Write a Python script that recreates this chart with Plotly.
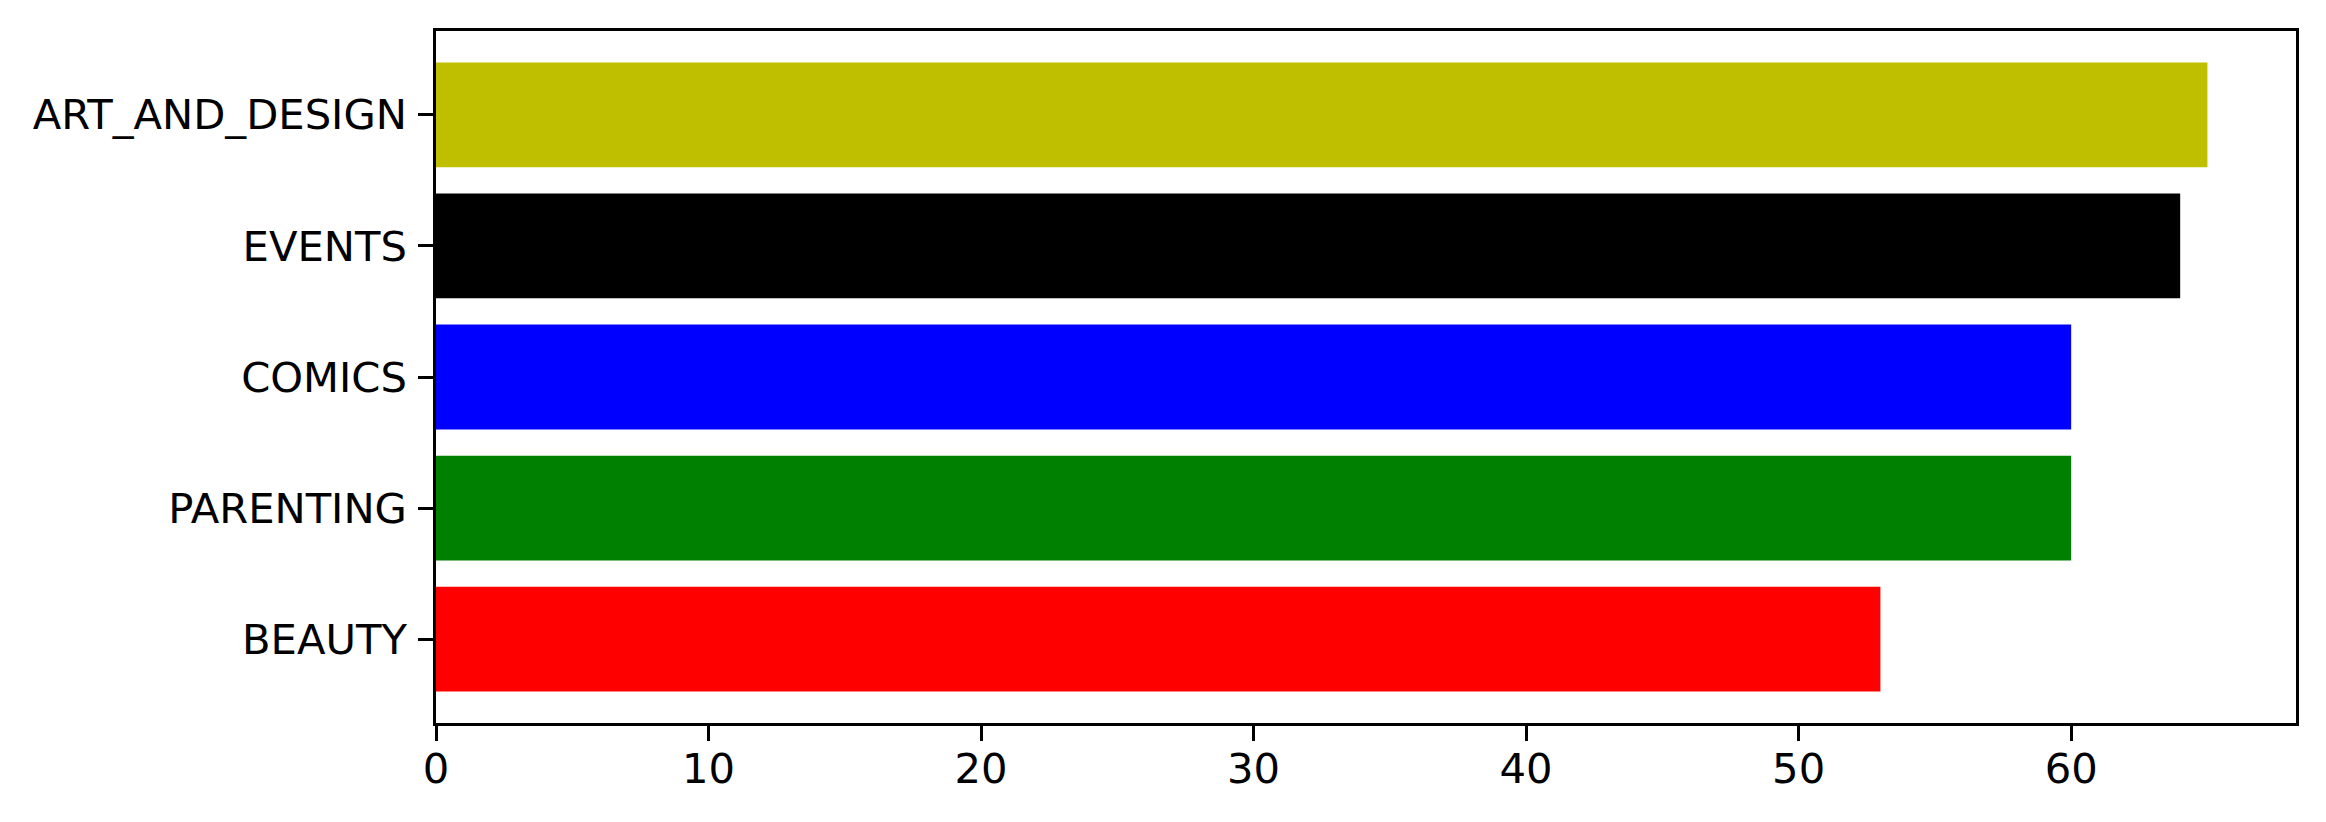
import plotly.graph_objects as go

categories = ["BEAUTY", "PARENTING", "COMICS", "EVENTS", "ART_AND_DESIGN"]
values = [53, 60, 60, 64, 65]
colors = ["#ff0000", "#008000", "#0000ff", "#000000", "#bfbf00"]
x_ticks = [0, 10, 20, 30, 40, 50, 60]

fig = go.Figure()
fig.add_trace(go.Bar(
    x=values, y=categories, orientation="h",
    marker=dict(color=colors, line=dict(width=0)),
    width=0.8,
))
# invisible trace so the label-only axis is rendered
fig.add_trace(go.Scatter(x=[0], y=[categories[0]], xaxis="x2", mode="markers",
                         marker=dict(opacity=0), hoverinfo="skip"))

font = dict(family="DejaVu Sans, sans-serif", size=41.7, color="black")
axis_common = dict(
    showline=True, linecolor="black", linewidth=3.3, mirror=True,
    ticks="outside", ticklen=14.6, tickwidth=3.3, tickcolor="black",
    showgrid=False, zeroline=False, tickfont=font,
)
xmax = max(values) * 1.05
fig.update_layout(
    width=2326, height=822,
    margin=dict(l=436, r=30, t=31, b=99),
    paper_bgcolor="white", plot_bgcolor="white",
    showlegend=False,
    xaxis=dict(range=[0, xmax], tickvals=x_ticks, showticklabels=False, **axis_common),
    xaxis2=dict(range=[0, xmax], tickvals=x_ticks, overlaying="x", side="bottom",
                anchor="y", ticks="outside", ticklen=9, tickcolor="rgba(0,0,0,0)",
                showline=False, showgrid=False, zeroline=False, tickfont=font),
    yaxis=dict(type="category", categoryorder="array", categoryarray=categories,
               range=[-0.64, len(categories) - 1 + 0.64], ticklabelstandoff=3, **axis_common),
)
fig.write_html("out.html")
